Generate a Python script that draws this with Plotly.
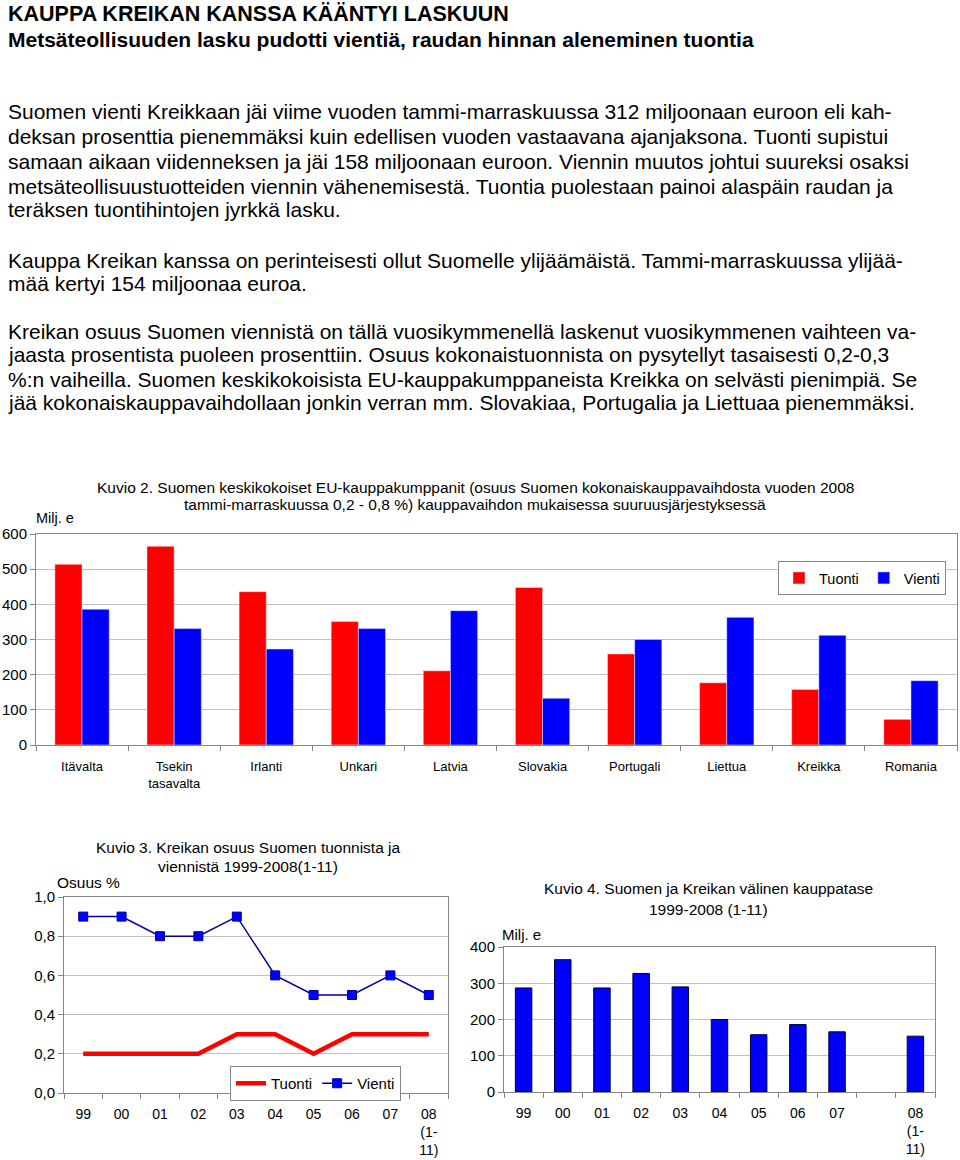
import plotly.graph_objects as go

W, H = 960, 1160

# ---------------- data ----------------
countries = ["Itävalta", "Tsekin<br>tasavalta", "Irlanti", "Unkari", "Latvia",
             "Slovakia", "Portugali", "Liettua", "Kreikka", "Romania"]
tuonti_2008 = [514, 565, 436, 351, 211, 448, 259, 177, 158, 73]
vienti_2008 = [386, 331, 273, 331, 382, 133, 300, 363, 312, 183]

years = ["99", "00", "01", "02", "03", "04", "05", "06", "07", "08<br>(1-<br>11)"]
osuus_tuonti = [0.2, 0.2, 0.2, 0.2, 0.3, 0.3, 0.2, 0.3, 0.3, 0.3]
osuus_vienti = [0.9, 0.9, 0.8, 0.8, 0.9, 0.6, 0.5, 0.5, 0.6, 0.5]
osuus_ticks = [0.0, 0.2, 0.4, 0.6, 0.8, 1.0]
osuus_ticktext = ["0,0", "0,2", "0,4", "0,6", "0,8", "1,0"]

balance_years = ["99", "00", "01", "02", "03", "04", "05", "06", "07", " ", "08<br>(1-<br>11)"]
balance = [287, 365, 287, 327, 290, 200, 158, 186, 166, None, 154]

title_main = "KAUPPA KREIKAN KANSSA KÄÄNTYI LASKUUN"
title_sub = "Metsäteollisuuden lasku pudotti vientiä, raudan hinnan aleneminen tuontia"
body_lines = [
    "Suomen vienti Kreikkaan jäi viime vuoden tammi-marraskuussa 312 miljoonaan euroon eli kah-",
    "deksan prosenttia pienemmäksi kuin edellisen vuoden vastaavana ajanjaksona. Tuonti supistui",
    "samaan aikaan viidenneksen ja jäi 158 miljoonaan euroon. Viennin muutos johtui suureksi osaksi",
    "metsäteollisuustuotteiden viennin vähenemisestä. Tuontia puolestaan painoi alaspäin raudan ja",
    "teräksen tuontihintojen jyrkkä lasku.",
    "Kauppa Kreikan kanssa on perinteisesti ollut Suomelle ylijäämäistä. Tammi-marraskuussa ylijää-",
    "mää kertyi 154 miljoonaa euroa.",
    "Kreikan osuus Suomen viennistä on tällä vuosikymmenellä laskenut vuosikymmenen vaihteen va-",
    "jaasta prosentista puoleen prosenttiin. Osuus kokonaistuonnista on pysytellyt tasaisesti 0,2-0,3",
    "%:n vaiheilla. Suomen keskikokoisista EU-kauppakumppaneista Kreikka on selvästi pienimpiä. Se",
    "jää kokonaiskauppavaihdollaan jonkin verran mm. Slovakiaa, Portugalia ja Liettuaa pienemmäksi.",
]
body_y = [112, 137, 161, 186, 210, 260, 284, 331, 355, 379, 403]

RED = "#FF0000"
BLUE = "#0000FF"
GRID = "#C0C0C0"
LINE = "#868686"
FONT = "Liberation Sans, Arial, sans-serif"


def px(x):
    return x / W


def py(y):
    return 1 - y / H


fig = go.Figure()

# Kuvio 2 bars
fig.add_trace(go.Bar(x=countries, y=tuonti_2008, name="Tuonti", marker_color=RED,
                     xaxis="x", yaxis="y", legend="legend"))
fig.add_trace(go.Bar(x=countries, y=vienti_2008, name="Vienti", marker_color=BLUE,
                     xaxis="x", yaxis="y", legend="legend"))

# Kuvio 3 lines
fig.add_trace(go.Scatter(x=years, y=osuus_tuonti, name="Tuonti", mode="lines",
                         line=dict(color=RED, width=4.5), xaxis="x2", yaxis="y2",
                         legend="legend2"))
fig.add_trace(go.Scatter(x=years, y=osuus_vienti, name="Vienti", mode="lines+markers",
                         line=dict(color="#0000A0", width=1.5),
                         marker=dict(symbol="square", size=9, color=BLUE,
                                     line=dict(color="#0000A0", width=1)),
                         xaxis="x2", yaxis="y2", legend="legend2"))

# Kuvio 4 bars
fig.add_trace(go.Bar(x=balance_years, y=balance, name="Kauppatase", marker_color=BLUE,
                     marker_line=dict(color="#000033", width=1), width=0.42,
                     xaxis="x3", yaxis="y3", showlegend=False))


def axis_common(size):
    return dict(showline=True, mirror=True, linecolor=LINE, linewidth=1,
                ticks="outside", ticklen=5, tickcolor=LINE, automargin=False,
                tickfont=dict(size=size, color="black", family=FONT))


fig.update_layout(
    width=W, height=H,
    margin=dict(l=0, r=0, t=0, b=0, autoexpand=False),
    paper_bgcolor="white", plot_bgcolor="white",
    font=dict(family=FONT, color="black"),
    bargap=0.41, bargroupgap=0.0, barmode="group",
    xaxis=dict(domain=[px(36), px(957)], anchor="y", type="category",
               tickson="boundaries", showgrid=False, ticklabelstandoff=9,
               **axis_common(13)),
    yaxis=dict(domain=[py(745), py(534)], anchor="x", range=[0, 600], dtick=100,
               showgrid=True, gridcolor=GRID, zeroline=False, **axis_common(15)),
    xaxis2=dict(domain=[px(64), px(448)], anchor="y2", type="category",
                range=[-0.5, 9.5], tickson="boundaries", showgrid=False,
                ticklabelstandoff=8, **axis_common(14)),
    yaxis2=dict(domain=[py(1093), py(897)], anchor="x2", range=[0, 1.0],
                tickvals=osuus_ticks, ticktext=osuus_ticktext,
                showgrid=True, gridcolor=GRID, zeroline=False, **axis_common(15)),
    xaxis3=dict(domain=[px(504), px(935)], anchor="y3", type="category",
                range=[-0.5, 10.5], tickson="boundaries", showgrid=False,
                ticklabelstandoff=8, **axis_common(14)),
    yaxis3=dict(domain=[py(1092), py(947)], anchor="x3", range=[0, 400], dtick=100,
                showgrid=True, gridcolor=GRID, zeroline=False, **axis_common(15)),
    legend=dict(orientation="h", x=px(778), y=py(561), xanchor="left", yanchor="top",
                bordercolor=LINE, borderwidth=1, bgcolor="white",
                font=dict(size=14.5, family=FONT), itemwidth=30, tracegroupgap=0,
                traceorder="normal"),
    legend2=dict(orientation="h", x=px(230), y=py(1066), xanchor="left", yanchor="top",
                 bordercolor=LINE, borderwidth=1, bgcolor="white",
                 font=dict(size=15, family=FONT), itemwidth=30, traceorder="normal"),
)

ann = []
ann.append(dict(text=title_main, x=px(6), y=py(14), xanchor="left", yanchor="middle",
                font=dict(size=21.5, family=FONT, weight="bold")))
ann.append(dict(text=title_sub, x=px(6), y=py(40), xanchor="left", yanchor="middle",
                font=dict(size=21, family=FONT, weight="bold")))
for line, yy in zip(body_lines, body_y):
    ann.append(dict(text=line, x=px(6), y=py(yy), xanchor="left", yanchor="middle",
                    font=dict(size=21, family=FONT)))

# chart titles and axis titles
ann.append(dict(text="Kuvio 2. Suomen keskikokoiset EU-kauppakumppanit (osuus Suomen kokonaiskauppavaihdosta vuoden 2008",
                x=px(475), y=py(487), xanchor="center", yanchor="middle", font=dict(size=15.5)))
ann.append(dict(text="tammi-marraskuussa 0,2 - 0,8 %) kauppavaihdon mukaisessa suuruusjärjestyksessä",
                x=px(475), y=py(505), xanchor="center", yanchor="middle", font=dict(size=15.5)))
ann.append(dict(text="Milj. e", x=px(34), y=py(518), xanchor="left", yanchor="middle",
                font=dict(size=14.5)))

ann.append(dict(text="Kuvio 3. Kreikan osuus Suomen tuonnista ja", x=px(248), y=py(847),
                xanchor="center", yanchor="middle", font=dict(size=15.5)))
ann.append(dict(text="viennistä 1999-2008(1-11)", x=px(248), y=py(866),
                xanchor="center", yanchor="middle", font=dict(size=15.5)))
ann.append(dict(text="Osuus %", x=px(55), y=py(882), xanchor="left", yanchor="middle",
                font=dict(size=15.5)))

ann.append(dict(text="Kuvio 4. Suomen ja Kreikan välinen kauppatase", x=px(708), y=py(888),
                xanchor="center", yanchor="middle", font=dict(size=15.5)))
ann.append(dict(text="1999-2008 (1-11)", x=px(708), y=py(909),
                xanchor="center", yanchor="middle", font=dict(size=15.5)))
ann.append(dict(text="Milj. e", x=px(500), y=py(934), xanchor="left", yanchor="middle",
                font=dict(size=15)))

for a in ann:
    a.update(xref="paper", yref="paper", showarrow=False)
fig.update_layout(annotations=ann)

fig.write_html("out.html", config={"displayModeBar": False},
               post_script="document.body.style.margin='0px';document.body.style.padding='0px';")
